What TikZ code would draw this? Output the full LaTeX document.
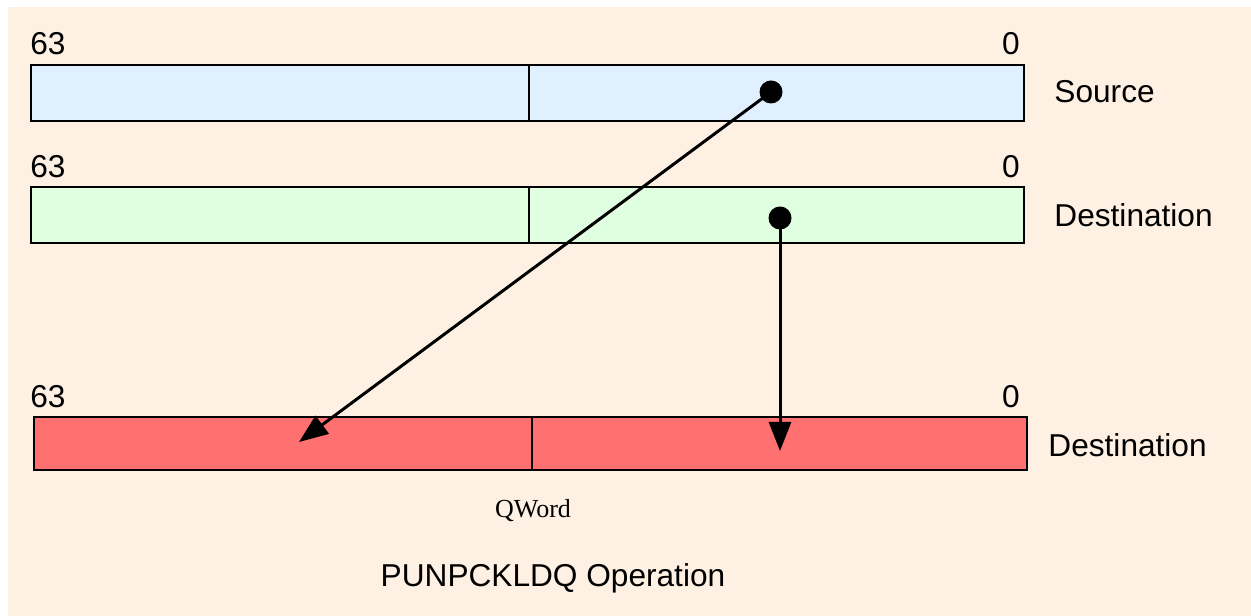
\documentclass[tikz,border=0pt]{standalone}
\usepackage{fontspec}
\setmainfont{Liberation Sans}
\newfontfamily\qwfont{Liberation Serif}
\usetikzlibrary{arrows.meta}
\definecolor{peach}{HTML}{FEF0E3}
\definecolor{srcblue}{HTML}{E0F0FE}
\definecolor{dstgreen}{HTML}{E0FEE0}
\definecolor{resred}{HTML}{FF7070}

\begin{document}
\begin{tikzpicture}[every node/.style={font=\fontsize{9}{11}\selectfont},
    half/.style={draw=black, line width=0.6pt, minimum height=0.56cm, inner sep=0pt, outer sep=0pt},
    hihalf/.style={half, minimum width=4.98cm},
    lohalf/.style={half, minimum width=4.95cm},
    dot/.style={circle, fill=black, minimum size=0.23cm, inner sep=0pt},
    flow/.style={line width=0.85pt, -{Triangle[length=0.29cm, width=0.22cm]}}]
    \useasboundingbox (0,0) rectangle (12.51,-6.16);
    \fill[peach] (0.08,-0.07) rectangle (12.51,-6.16);
    %%%%%%%%%%%%%%%% Bit numbers above each register
    \foreach \y/\n in {-0.44/1,-1.67/2,-3.97/3} {
        \node (hi\n) at (0.48,\y) {63};
        \node (lo\n) at (10.11,\y) {0};
    }
    %%%%%%%%%%%%%%%% Source register
    \node[hihalf, fill=srcblue] (srchi) at (2.80,-0.93) {};
    \node[lohalf, fill=srcblue] (srclo) at (7.765,-0.93) {};
    \node[right] (srclbl) at (10.42,-0.92) {Source};
    %%%%%%%%%%%%%%%% Destination register
    \node[hihalf, fill=dstgreen] (dsthi) at (2.80,-2.15) {};
    \node[lohalf, fill=dstgreen] (dstlo) at (7.765,-2.15) {};
    \node[right] (dstlbl) at (10.42,-2.15) {Destination};
    %%%%%%%%%%%%%%%% Result register
    \node[hihalf, fill=resred, minimum height=0.53cm] (reshi) at (2.83,-4.435) {};
    \node[lohalf, fill=resred, minimum height=0.53cm] (reslo) at (7.795,-4.435) {};
    \node[right] (reslbl) at (10.36,-4.45) {Destination};
    %%%%%%%%%%%%%%%% Low quadwords moved into the result
    \node[dot] (srcdot) at (7.71,-0.92) {};
    \node[dot] (dstdot) at (7.80,-2.18) {};
    \coordinate (tohi) at (2.99,-4.42);
    \coordinate (tolo) at (7.80,-4.51);
    \draw[flow] (srcdot.center) -- (tohi);
    \draw[flow] (dstdot.center) -- (tolo);
    %%%%%%%%%%%%%%%% Captions
    \node[font=\qwfont\fontsize{7.4}{9}\selectfont] (qword) at (5.33,-5.11) {QWord};
    \node (title) at (5.53,-5.78) {PUNPCKLDQ Operation};
\end{tikzpicture}
\end{document}
